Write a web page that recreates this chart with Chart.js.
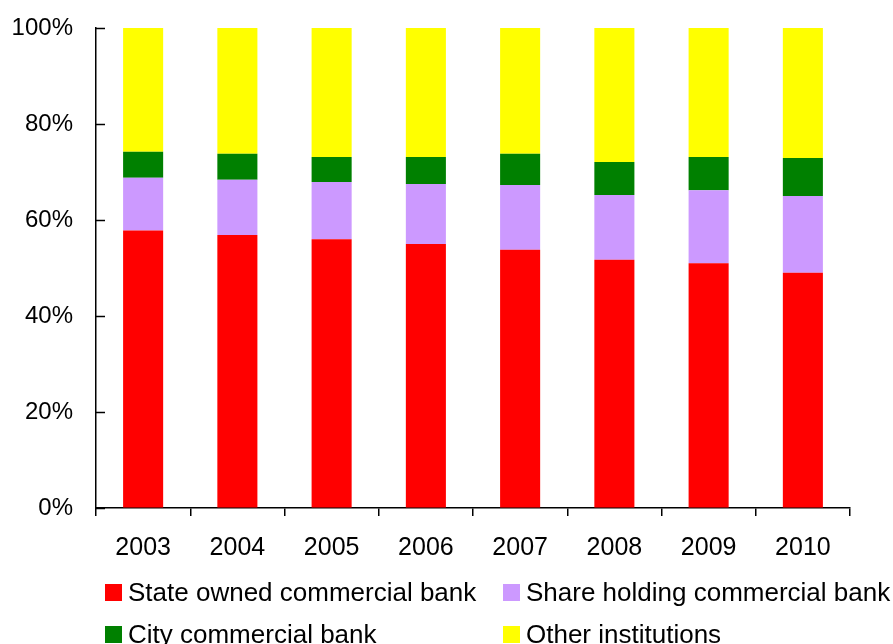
<!DOCTYPE html>
<html>
<head>
<meta charset="utf-8">
<script src="https://cdn.jsdelivr.net/npm/chart.js@4.4.0/dist/chart.umd.min.js"></script>
<style>
  html, body { margin: 0; padding: 0; background: #fff; }
  #wrap { position: relative; width: 893px; height: 644px; overflow: hidden; }
  #legend { position: absolute; left: 0; top: 0; width: 893px; height: 644px; pointer-events: none;
            font-family: "Liberation Sans", Arial, sans-serif; font-size: 26px; color: #000; }
  .item { position: absolute; white-space: nowrap; line-height: 28px; }
  .item span.box { position: absolute; left: 0; top: 6px; width: 17px; height: 17px; }
  .item span.txt { position: absolute; left: 23px; top: 0; }
</style>
</head>
<body>
<div id="wrap">
  <canvas id="bar-chart" width="893" height="644"></canvas>
  <div id="legend"></div>
</div>
<script>
var years = ['2003', '2004', '2005', '2006', '2007', '2008', '2009', '2010'];

var stateOwned   = [57.8, 56.9, 56.0, 55.0, 53.8, 51.7, 51.0, 49.0];
var shareHolding = [11.0, 11.5, 11.9, 12.5, 13.5, 13.5, 15.2, 16.0];
var cityBank     = [5.4, 5.4, 5.2, 5.6, 6.5, 6.9, 6.9, 7.9];
var otherInst    = [25.8, 26.2, 26.9, 26.9, 26.2, 27.9, 26.9, 27.1];

var yTicks = [0, 20, 40, 60, 80, 100];

var fontFamily = '"Liberation Sans", Arial, sans-serif';

var datasets = [
    { label: 'State owned commercial bank', data: stateOwned, backgroundColor: '#FF0000' },
    { label: 'Share holding commercial bank', data: shareHolding, backgroundColor: '#CC99FF' },
    { label: 'City commercial bank', data: cityBank, backgroundColor: '#008000' },
    { label: 'Other institutions', data: otherInst, backgroundColor: '#FFFF00' }
];
datasets.forEach(function(d){
    d.borderWidth = 0;
    d.categoryPercentage = 1;
    d.barPercentage = 0.425;
});

// y ticks point inward in the original
var innerTicks = {
    id: 'innerTicks',
    afterDraw: function(chart){
        var y = chart.scales.y, c = chart.ctx;
        c.save();
        c.strokeStyle = '#000';
        c.lineWidth = 1.5;
        yTicks.forEach(function(v){
            var py = Math.round(y.getPixelForValue(v)) + 0.5;
            c.beginPath();
            c.moveTo(y.right, py);
            c.lineTo(y.right + 9, py);
            c.stroke();
        });
        c.restore();
    }
};

var chart = new Chart(document.getElementById('bar-chart'), {
    type: 'bar',
    data: { labels: years, datasets: datasets },
    options: {
        responsive: false,
        animation: false,
        layout: { padding: { left: 0, top: 28, right: 43, bottom: 0 } },
        plugins: { legend: { display: false }, tooltip: { enabled: false } },
        scales: {
            x: {
                stacked: true,
                grid: { drawOnChartArea: false, drawTicks: true, tickLength: 8, color: '#000', lineWidth: 1.5 },
                border: { color: '#000', width: 1.5 },
                ticks: { color: '#000', padding: 17, font: { family: fontFamily, size: 25 } },
                afterFit: function(s){ s.height = 136; s.paddingLeft = 0; s.paddingRight = 0; }
            },
            y: {
                stacked: true,
                min: 0, max: 100,
                afterBuildTicks: function(s){ s.ticks = yTicks.map(function(v){ return { value: v }; }); },
                grid: { drawOnChartArea: false, drawTicks: false },
                border: { color: '#000', width: 1.5 },
                ticks: { color: '#000', padding: 23, font: { family: fontFamily, size: 24 },
                         callback: function(v){ return v + '%'; } },
                afterFit: function(s){ s.width = 96; s.paddingTop = 0; s.paddingBottom = 0; }
            }
        }
    },
    plugins: [innerTicks]
});

// legend laid out in two columns like the original
var legendPos = [[105, 578], [503, 578], [105, 620], [503, 620]];
var legend = document.getElementById('legend');
datasets.forEach(function(d, i){
    var el = document.createElement('div');
    el.className = 'item';
    el.style.left = legendPos[i][0] + 'px';
    el.style.top = legendPos[i][1] + 'px';
    el.innerHTML = '<span class="box" style="background:' + d.backgroundColor + '"></span><span class="txt">' + d.label + '</span>';
    legend.appendChild(el);
});
</script>
</body>
</html>
